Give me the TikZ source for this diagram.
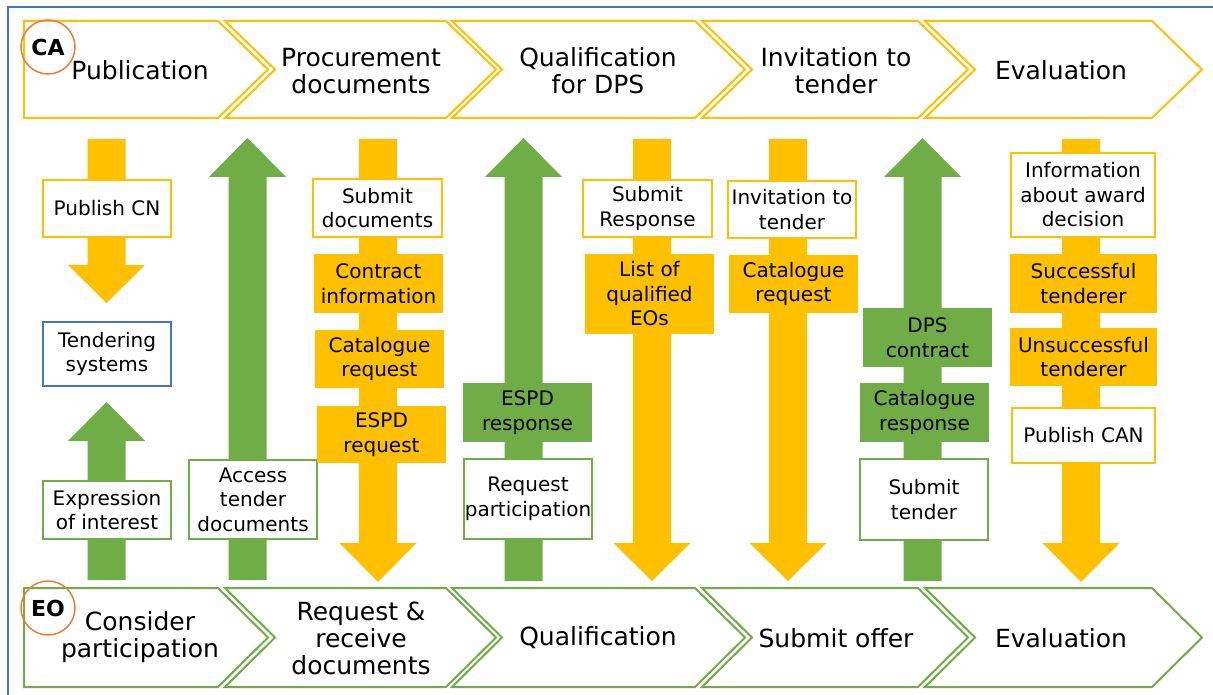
\documentclass[tikz,border=0pt]{standalone}
\usepackage{fontspec}
\setmainfont{DejaVu Sans}
\definecolor{cy}{HTML}{FFC000}
\definecolor{cg}{HTML}{70AD47}
\definecolor{cb}{HTML}{4472C4}
\definecolor{co}{HTML}{ED7D31}
\newcommand\blockarrow[5]{%
  \fill[#1] ({#2-19},#3) -- ({#2+19},#3) -- ({#2+19},#4) -- ({#2+38.5},#4) -- (#2,#5) -- ({#2-38.5},#4) -- ({#2-19},#4) -- cycle;}
\newcommand\chevfirst[5]{% color, left, corner, ytop, ybot
  \draw[#1, line width=2pt, line join=miter] (#2,#4) -- (#3,#4) -- ({#3+50},{(#4+#5)/2}) -- (#3,#5) -- (#2,#5) -- cycle;}
\newcommand\chevmid[5]{% color, notch, corner, ytop, ybot
  \draw[#1, line width=2pt, line join=miter] (#2,#4) -- (#3,#4) -- ({#3+50},{(#4+#5)/2}) -- (#3,#5) -- (#2,#5) -- ({#2+50},{(#4+#5)/2}) -- cycle;}
\begin{document}
\begin{tikzpicture}[x=1pt,y=-1pt,
  txt/.style={font=\fontsize{20}{24.5}\selectfont, align=center, inner sep=0pt, text=black},
  ybord/.style={txt, draw=cy, fill=white, line width=2pt},
  gbord/.style={txt, draw=cg, fill=white, line width=2pt},
  bbord/.style={txt, draw=cb, fill=white, line width=2pt},
  yfill/.style={txt, fill=cy},
  gfill/.style={txt, fill=cg},
  chtxt/.style={font=\fontsize{25}{27}\selectfont, align=center, inner sep=0pt, text=black},
  badge/.style={circle, draw=co, line width=1.5pt, minimum size=54pt, inner sep=0pt},
  badgetxt/.style={font=\fontsize{22}{24}\selectfont\bfseries, inner sep=0pt}
]
\useasboundingbox (0,0) rectangle (1213,695);
\fill[white] (0,0) rectangle (1213,695);
% outer frame
\draw[cb, line width=2pt] (8,697) -- (8,7) -- (1215,7);

% top chevrons (CA)
\chevfirst{cy}{24}{218}{21}{118}
\chevmid{cy}{225}{446}{21}{118}
\chevmid{cy}{452}{695}{21}{118}
\chevmid{cy}{702}{918}{21}{118}
\chevmid{cy}{925}{1152}{21}{118}
% bottom chevrons (EO)
\chevfirst{cg}{24}{218}{588}{687}
\chevmid{cg}{225}{446}{588}{687}
\chevmid{cg}{452}{695}{588}{687}
\chevmid{cg}{702}{918}{588}{687}
\chevmid{cg}{925}{1152}{588}{687}

\node[chtxt] (t1) at (140,70) {Publication};
\node[chtxt] (t2) at (361,71) {Procurement\\documents};
\node[chtxt] (t3) at (598,71) {Qualification\\for DPS};
\node[chtxt] (t4) at (836,71) {Invitation to\\tender};
\node[chtxt] (t5) at (1061,70) {Evaluation};

\node[chtxt] (b1) at (140,637) {Consider\\participation};
\node[chtxt] (b2) at (361,638) {Request \&\\receive\\documents};
\node[chtxt] (b3) at (598,638) {Qualification};
\node[chtxt] (b4) at (836,638) {Submit offer};
\node[chtxt] (b5) at (1061,638) {Evaluation};

\node[badge] (ca) at (48,47) {};
\node[badgetxt] at (ca) {CA};
\node[badge] (eo) at (48,608) {};
\node[badgetxt] at (eo) {EO};

% block arrows
\blockarrow{cy}{106.5}{139}{265}{303}
\blockarrow{cg}{106.5}{580}{441}{402}
\blockarrow{cg}{247.5}{580}{177}{138}
\blockarrow{cy}{378}{139}{543}{582}
\blockarrow{cg}{523.5}{581}{177}{138}
\blockarrow{cy}{652}{139}{543}{581}
\blockarrow{cy}{788}{139}{543}{581}
\blockarrow{cg}{922.5}{581}{177}{138}
\blockarrow{cy}{1081}{139}{543}{582}

% column 1
\node[ybord, minimum width=128, minimum height=57] (pcn) at (107,208.5) {Publish CN};
\node[bbord, minimum width=128, minimum height=64] (ts) at (107,354) {Tendering\\systems};
\node[gbord, minimum width=128, minimum height=58] (eoi) at (107,510) {Expression\\of interest};
% column 2
\node[gbord, minimum width=128, minimum height=79] (atd) at (253,499.5) {Access\\tender\\documents};
% column 3
\node[ybord, minimum width=129, minimum height=58] (sd) at (377.5,208) {Submit\\documents};
\node[yfill, minimum width=129, minimum height=59] (ci) at (378.5,283.5) {Contract\\information};
\node[yfill, minimum width=129, minimum height=58] (cr1) at (379.5,359) {Catalogue\\request};
\node[yfill, minimum width=129, minimum height=57] (er) at (381.5,434.5) {ESPD\\request};
% column 4
\node[gfill, minimum width=129, minimum height=59] (eres) at (527.5,412.5) {ESPD\\response};
\node[gbord, minimum width=128, minimum height=80] (rp) at (528,499) {Request\\participation};
% column 5
\node[ybord, minimum width=129, minimum height=57] (sr) at (647.5,208.5) {Submit\\Response};
\node[yfill, minimum width=129, minimum height=80] (lq) at (649.5,294) {List of\\qualified\\EOs};
% column 6
\node[ybord, minimum width=128, minimum height=57] (itt) at (792,209.5) {Invitation to\\tender};
\node[yfill, minimum width=129, minimum height=58] (cr2) at (793.5,284) {Catalogue\\request};
% column 7
\node[gfill, minimum width=129, minimum height=59] (dps) at (927.5,337.5) {DPS\\contract};
\node[gfill, minimum width=129, minimum height=59] (cres) at (924.5,412.5) {Catalogue\\response};
\node[gbord, minimum width=128, minimum height=81] (st) at (924,499.5) {Submit\\tender};
% column 8
\node[ybord, minimum width=144, minimum height=84] (iad) at (1083,195) {Information\\about award\\decision};
\node[yfill, minimum width=147, minimum height=59] (suc) at (1083.5,283.5) {Successful\\tenderer};
\node[yfill, minimum width=147, minimum height=58] (uns) at (1083.5,357) {Unsuccessful\\tenderer};
\node[ybord, minimum width=143, minimum height=55] (can) at (1083.5,435.5) {Publish CAN};
\end{tikzpicture}
\end{document}
